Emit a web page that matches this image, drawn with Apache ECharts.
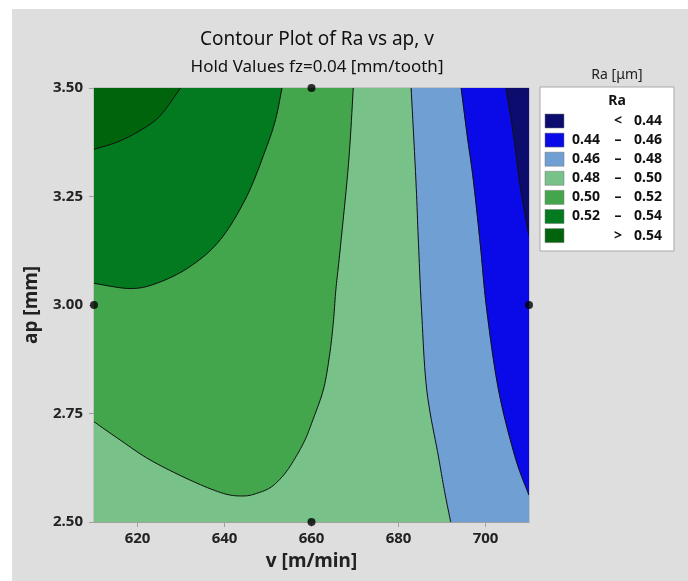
<!DOCTYPE html>
<html>
<head>
<meta charset="utf-8">
<script src="https://cdn.jsdelivr.net/npm/echarts@6/dist/echarts.min.js"></script>
<style>
  html, body { margin: 0; padding: 0; background: #fff; }
  #chart { width: 688px; height: 581px; }
</style>
</head>
<body>
<div id="chart"></div>
<script>
// axis ranges and ticks
const vMin = 610, vMax = 710;
const apMin = 2.5, apMax = 3.5;
const vTicks = [620, 640, 660, 680, 700];
const apTicks = [2.5, 2.75, 3.0, 3.25, 3.5];

// contour levels and band colours (low -> high)
const levels = [0.44, 0.46, 0.48, 0.50, 0.52, 0.54];
const bandColors = ['#0c0c6e', '#0a0ae8', '#6f9fd3', '#78c289', '#44a64c', '#037a1f', '#00640c'];

// contour lines, [v, ap]
const line044 = [[704.7, 3.5], [706.4, 3.394], [707.9, 3.279], [709.4, 3.19], [710, 3.16]];
const line046 = [[694.4, 3.5], [695.8, 3.39], [697.2, 3.288], [698.8, 3.14], [700.3, 2.988], [703, 2.804], [706.8, 2.65], [710, 2.562]];
const line048 = [[682.9, 3.5], [684, 3.288], [684.6, 3.14], [685.3, 2.988], [686.5, 2.804], [689.2, 2.65], [690.6, 2.57], [692, 2.5]];
const line050 = [[669.6, 3.5], [668.5, 3.325], [666.5, 3.12], [665.6, 3.035], [665.0, 2.958], [664.1, 2.881], [662.7, 2.804], [660, 2.727], [658.5, 2.689], [656.4, 2.65], [653.9, 2.612], [650.8, 2.581], [647.4, 2.566], [644.3, 2.56], [639.7, 2.566], [632, 2.597], [622.9, 2.643], [616, 2.689], [610, 2.731]];
const line052 = [[653.2, 3.5], [651.8, 3.43], [649.7, 3.365], [645.1, 3.25], [639, 3.15], [632, 3.088], [624.4, 3.05], [618.3, 3.038], [610, 3.05]];
const line054 = [[629.9, 3.5], [625.2, 3.436], [620.6, 3.402], [615.2, 3.375], [610, 3.359]];

// design points
const pointV = [610, 660, 660, 710];
const pointAp = [3.0, 3.5, 2.5, 3.0];

const titleText = 'Contour Plot of Ra vs ap, v';
const subText = 'Hold Values fz=0.04 [mm/tooth]';
const legendTitle = 'Ra [μm]';
const legendHead = 'Ra';

const font = 'Noto Sans';

// filled regions, painted bottom to top; corners close the polygon along the plot edge
const regions = [
  { color: bandColors[3], line: null, corners: [[vMin, apMin], [vMax, apMin], [vMax, apMax], [vMin, apMax]] },
  { color: bandColors[4], line: line050, corners: [[vMin, apMax]] },
  { color: bandColors[5], line: line052, corners: [[vMin, apMax]] },
  { color: bandColors[6], line: line054, corners: [[vMin, apMax]] },
  { color: bandColors[2], line: line048, corners: [[vMax, apMin], [vMax, apMax]] },
  { color: bandColors[1], line: line046, corners: [[vMax, apMax]] },
  { color: bandColors[0], line: line044, corners: [[vMax, apMax]] }
];

// Catmull-Rom smoothing of pixel points, like smooth:true on a line
function smoothPix(p, steps) {
  const out = [p[0]];
  for (let i = 0; i < p.length - 1; i++) {
    const p0 = p[i - 1] || p[i], p1 = p[i], p2 = p[i + 1], p3 = p[i + 2] || p[i + 1];
    for (let s = 1; s <= steps; s++) {
      const t = s / steps, t2 = t * t, t3 = t2 * t;
      const f = k => 0.5 * (2 * p1[k] + (p2[k] - p0[k]) * t +
        (2 * p0[k] - 5 * p1[k] + 4 * p2[k] - p3[k]) * t2 +
        (3 * p1[k] - p0[k] - 3 * p2[k] + p3[k]) * t3);
      out.push([f(0), f(1)]);
    }
  }
  return out;
}

const chart = echarts.init(document.getElementById('chart'));

// legend built as graphic elements
const legendX = 540, legendY = 87;
const rowY0 = 121, rowStep = 19.1;
const legendItems = [];
legendItems.push({ type: 'rect', shape: { x: legendX, y: legendY, width: 134, height: 164 }, style: { fill: '#fff', stroke: '#a8a8a8', lineWidth: 1 }, z: 10 });
legendItems.push({ type: 'text', x: 617, y: 101, style: { text: legendHead, font: 'bold 14px "' + font + '"', fill: '#111', align: 'center', verticalAlign: 'middle' }, z: 11 });
bandColors.forEach((c, i) => {
  const y = rowY0 + i * rowStep;
  legendItems.push({ type: 'rect', shape: { x: 545, y: y - 7, width: 19, height: 14 }, style: { fill: c, stroke: '#777', lineWidth: 0.5 }, z: 11 });
  let lo = '', mid = '', hi = '';
  if (i === 0) { mid = '<'; hi = levels[0].toFixed(2); }
  else if (i === bandColors.length - 1) { mid = '>'; hi = levels[levels.length - 1].toFixed(2); }
  else { lo = levels[i - 1].toFixed(2); mid = '–'; hi = levels[i].toFixed(2); }
  const st = { font: 'bold 14px "' + font + '"', fill: '#111', verticalAlign: 'middle' };
  if (lo) legendItems.push({ type: 'text', x: 572, y: y, style: Object.assign({ text: lo, align: 'left' }, st), z: 11 });
  legendItems.push({ type: 'text', x: 618, y: y, style: Object.assign({ text: mid, align: 'center' }, st), z: 11 });
  legendItems.push({ type: 'text', x: 662, y: y, style: Object.assign({ text: hi, align: 'right' }, st), z: 11 });
});

const option = {
  animation: false,
  backgroundColor: '#fff',
  graphic: [
    { type: 'rect', shape: { x: 12, y: 9, width: 676, height: 572 }, style: { fill: '#dedede' }, z: -10 }
  ].concat(legendItems),
  title: [
    { text: titleText, left: 312, top: 25, textAlign: 'center', textStyle: { fontFamily: font, fontSize: 19, fontWeight: 'normal', color: '#111' } },
    { text: subText, left: 312, top: 54, textAlign: 'center', textStyle: { fontFamily: font, fontSize: 17, fontWeight: 'normal', color: '#111' } },
    { text: legendTitle, left: 612, top: 63, textAlign: 'center', textStyle: { fontFamily: font, fontSize: 14, fontWeight: 'normal', color: '#222' } }
  ],
  grid: { left: 94, top: 88, width: 435, height: 434, show: true, borderColor: '#a8a8a8', borderWidth: 1, backgroundColor: 'transparent' },
  xAxis: {
    type: 'value', min: vMin, max: vMax,
    name: 'v [m/min]', nameLocation: 'middle', nameGap: 30,
    nameTextStyle: { fontFamily: font, fontSize: 19, fontWeight: 'bold', color: '#222' },
    axisLine: { show: true, onZero: false, lineStyle: { color: '#a0a0a0' } },
    axisTick: { show: true, length: 5, customValues: vTicks, lineStyle: { color: '#a0a0a0' } },
    axisLabel: { customValues: vTicks, margin: 9, fontFamily: font, fontSize: 15, fontWeight: 'bold', color: '#222' },
    splitLine: { show: false }
  },
  yAxis: {
    type: 'value', min: apMin, max: apMax,
    name: 'ap [mm]', nameLocation: 'middle', nameGap: 53,
    nameTextStyle: { fontFamily: font, fontSize: 19, fontWeight: 'bold', color: '#222' },
    axisLine: { show: true, onZero: false, lineStyle: { color: '#a0a0a0' } },
    axisTick: { show: true, length: 5, customValues: apTicks, lineStyle: { color: '#a0a0a0' } },
    axisLabel: { customValues: apTicks, margin: 11, fontFamily: font, fontSize: 15, fontWeight: 'bold', color: '#222', formatter: v => v.toFixed(2) },
    splitLine: { show: false }
  },
  series: [
    {
      type: 'custom',
      coordinateSystem: 'cartesian2d',
      clip: true,
      silent: true,
      z: 1,
      encode: { x: 0, y: 1 },
      data: regions.map(() => [vMin, apMin]),
      renderItem: (params, api) => {
        const reg = regions[params.dataIndex];
        const curve = reg.line ? smoothPix(reg.line.map(p => api.coord(p)), 10) : [];
        const poly = curve.concat(reg.corners.map(p => api.coord(p)));
        const children = [{
          type: 'polygon',
          shape: { points: poly },
          style: { fill: reg.color, stroke: reg.color, lineWidth: 0.5 }
        }];
        if (curve.length) {
          children.push({
            type: 'polyline',
            shape: { points: curve },
            style: { stroke: '#111', lineWidth: 1, fill: null },
            z2: 10
          });
        }
        return { type: 'group', children: children };
      }
    },
    {
      type: 'scatter',
      data: pointV.map((v, i) => [v, pointAp[i]]),
      symbolSize: 8,
      clip: false,
      z: 5,
      itemStyle: { color: '#000' }
    }
  ]
};

chart.setOption(option);
</script>
</body>
</html>
